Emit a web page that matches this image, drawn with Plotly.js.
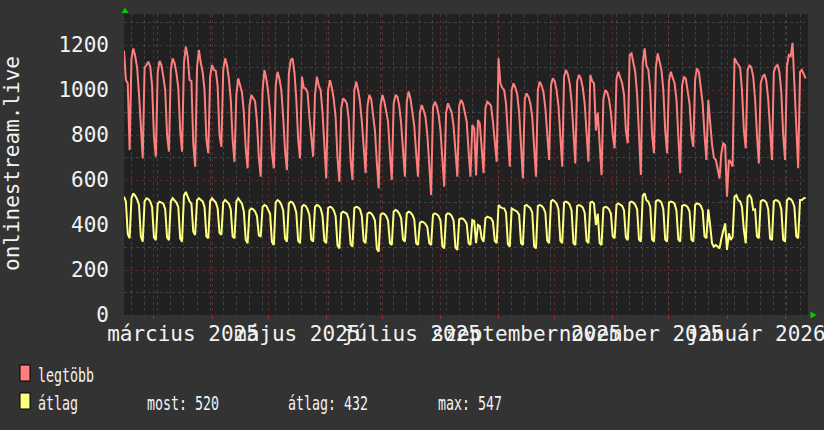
<!DOCTYPE html>
<html>
<head>
<meta charset="utf-8">
<script src="https://cdn.plot.ly/plotly-3.0.1.min.js"></script>
<style>
html,body{margin:0;padding:0;background:#333333;}
#chart{width:824px;height:430px;}
.annotation:not([data-index="0"]) text.annotation-text{
  transform: scaleX(0.7); transform-box: fill-box; transform-origin: 0 50%;
}
</style>
</head>
<body>
<div id="chart"></div>
<script>
// ---- data (daily, first day = startDate) ----
const startDate = [2025, 1, 13]; // 2025-02-13 (UTC, month 0-based)
const maxSeriesName = 'legtöbb';
const avgSeriesName = 'átlag';

const maxValues = [
 1175,1045,1030,733,
 1140,1185,1150,1100,985,830,696,
 1100,1110,1126,1105,1020,790,704,
 1080,1130,1110,1060,1000,800,726,
 1090,1141,1120,1075,1010,820,726,
 1120,1193,1150,1045,1040,760,659,
 1100,1178,1120,1080,1000,780,719,
 1060,1111,1090,1085,1020,800,748,
 1090,1141,1110,1050,960,780,681,
 980,1052,1020,990,900,740,652,
 930,978,960,950,860,700,615,
 1000,1089,1050,990,900,720,652,
 1020,1081,1050,1000,880,730,644,
 1070,1133,1141,1080,960,780,696,
 1059,1010,1007,990,880,770,704,
 980,1059,1020,1000,900,740,607,
 1000,1044,1010,960,880,700,593,
 920,963,955,940,870,690,600,
 1000,1037,1000,950,860,720,630,
 930,978,960,880,820,680,563,
 930,978,950,900,860,720,600,
 940,978,970,930,850,710,615,
 950,993,960,900,840,720,615,
 900,933,910,880,800,660,533,
 920,948,930,890,820,690,570,
 900,941,920,900,840,700,615,
 930,956,940,900,860,730,615,
 844,830,620,867,850,740,630,
 920,948,940,930,860,760,681,
 1141,1030,1010,1000,940,780,659,
 1000,1030,1010,980,900,730,607,
 960,985,970,940,880,720,615,
 1000,1037,1020,990,920,780,689,
 1020,1052,1040,1000,930,770,659,
 1060,1089,1070,1030,950,790,674,
 1040,1067,1050,1010,940,790,681,
 1067,1040,1030,820,900,760,622,
 960,1000,990,960,900,800,741,
 1050,1081,1060,1030,980,820,763,
 1156,1163,1120,1080,980,760,622,
 1120,1185,1107,1090,1000,800,719,
 1100,1163,1130,1090,1000,820,719,
 1040,1081,1060,1030,960,760,630,
 1020,1059,1050,1000,940,800,748,
 1050,1096,1080,1000,940,800,689,
 956,844,760,700,690,650,607,
 719,763,756,526,689,680,659,
 1141,1126,1111,1100,1000,820,741,
 1090,1111,1100,1060,960,800,674,
 1030,1059,1070,1040,960,800,689,
 1080,1104,1111,1080,990,800,689,
 1104,1156,1150,1210,1000,780,652,
 1081,1089,1070,1052
];

const avgValues = [
 526,505,360,341,
 520,541,530,515,490,350,326,
 505,519,515,505,480,345,333,
 495,504,500,495,470,345,333,
 505,519,510,500,480,340,326,
 530,547,525,505,495,370,356,
 510,519,512,505,480,350,341,
 505,519,510,500,475,365,356,
 500,511,505,495,470,350,341,
 505,519,505,495,460,335,319,
 465,474,470,460,440,355,348,
 480,489,485,470,450,325,311,
 500,511,505,490,465,340,326,
 495,504,500,485,455,330,319,
 481,489,485,470,445,335,326,
 480,489,485,475,440,330,319,
 475,481,478,465,440,310,296,
 452,459,455,450,425,315,304,
 475,481,478,470,440,330,319,
 450,456,452,440,420,295,281,
 445,452,450,440,420,320,311,
 460,467,462,450,430,335,326,
 452,459,455,445,425,320,311,
 410,415,412,405,390,320,311,
 445,452,448,440,420,305,296,
 445,452,450,440,420,300,289,
 425,430,428,420,405,320,311,
 422,418,319,400,395,340,326,
 430,437,435,430,415,330,319,
 489,480,475,474,455,315,304,
 474,470,465,459,445,320,311,
 485,489,482,475,455,305,296,
 485,489,485,475,455,330,319,
 505,511,505,495,470,330,319,
 500,504,500,490,465,320,311,
 485,489,485,478,455,330,319,
 500,504,495,400,450,320,311,
 475,481,478,470,450,350,341,
 490,496,492,485,465,345,333,
 500,504,500,490,470,335,326,
 530,541,510,504,480,335,326,
 505,511,508,500,470,335,326,
 500,504,502,495,465,335,326,
 485,489,487,480,460,335,326,
 490,496,494,485,465,350,341,
 470,400,319,304,311,304,296,
 340,370,407,289,363,333,348,
 526,533,511,505,480,378,319,
 525,533,520,467,470,350,341,
 505,511,508,500,470,340,333,
 505,511,508,500,470,335,326,
 510,519,515,505,480,350,341,
 511,511,519,520
];

const monthStarts = ['2025-03-01','2025-04-01','2025-05-01','2025-06-01','2025-07-01','2025-08-01',
  '2025-09-01','2025-10-01','2025-11-01','2025-12-01','2026-01-01','2026-02-01'];
const labelDates = ['2025-03-16 12:00','2025-05-16 12:00','2025-07-16 12:00','2025-09-16','2025-11-16','2026-01-16 12:00'];
const labelTexts = ['március 2025','május 2025','július 2025','szeptember 2025','november 2025','január 2026'];
const yTitle = 'onlinestream.live';
const statTexts = ['most: 520','átlag: 432','max: 547'];

// ---- dates ----
const dates = maxValues.map((_, i) => {
  const d = new Date(Date.UTC(startDate[0], startDate[1], startDate[2] + i));
  return d.toISOString().slice(0, 10);
});

const FONT = 'DejaVu Sans Mono';
const RED = '#ff7f7f';
const YEL = '#ffff80';

const traces = [
  {x: dates, y: maxValues, type: 'scatter', mode: 'lines', name: maxSeriesName,
   line: {color: RED, width: 2}, xaxis: 'x', yaxis: 'y', hoverinfo: 'skip'},
  {x: dates, y: avgValues, type: 'scatter', mode: 'lines', name: avgSeriesName,
   line: {color: YEL, width: 2}, xaxis: 'x2', yaxis: 'y', hoverinfo: 'skip'}
];

const majorGrid = 'rgba(170,60,60,0.40)';
const minorGrid = 'rgba(140,140,140,0.30)';

function px(x){ return (x - 124) / 684; }
function py(y){ return (315 - y) / 301; }

const layout = {
  width: 824, height: 430,
  paper_bgcolor: '#333333', plot_bgcolor: '#212121',
  margin: {l: 124, r: 16, t: 14, b: 115, pad: 0},
  showlegend: false,
  font: {family: FONT, color: '#f2f2f2'},
  xaxis: {
    type: 'date', range: ['2025-02-13', '2026-02-13 06:00'],
    tickmode: 'array', tickvals: monthStarts, showticklabels: false,
    ticks: 'outside', ticklen: 3, tickcolor: '#a03636',
    showgrid: true, gridcolor: majorGrid, griddash: 'dot', gridwidth: 1,
    minor: {tick0: '2025-02-17', dtick: 7 * 86400000, showgrid: true,
            gridcolor: minorGrid, griddash: 'dot', gridwidth: 1, ticks: ''},
    zeroline: false, showline: false, fixedrange: true
  },
  xaxis2: {
    type: 'date', overlaying: 'x', matches: 'x', anchor: 'y', side: 'bottom',
    tickmode: 'array', tickvals: labelDates, ticktext: labelTexts,
    tickangle: 0, ticks: '', showgrid: false, zeroline: false, showline: false,
    ticklabeloverflow: 'allow',
    tickfont: {family: FONT, size: 21, color: '#f2f2f2'},
    ticklabelstandoff: 4
  },
  yaxis: {
    range: [0, 1338], tickmode: 'linear', tick0: 0, dtick: 200,
    showgrid: true, gridcolor: majorGrid, griddash: 'dot', gridwidth: 1,
    minor: {dtick: 100, showgrid: true, gridcolor: minorGrid, griddash: 'dot', gridwidth: 1, ticks: ''},
    ticks: '', ticklabelstandoff: 14, zeroline: false, showline: false,
    tickfont: {family: FONT, size: 21, color: '#f2f2f2'}, fixedrange: true
  },
  shapes: [
    {type: 'path', xref: 'paper', yref: 'paper', layer: 'above',
     path: `M ${px(121.5)} ${py(13)} L ${px(128.5)} ${py(13)} L ${px(125)} ${py(7.5)} Z`,
     fillcolor: '#00cc00', line: {width: 0}},
    {type: 'path', xref: 'paper', yref: 'paper', layer: 'above',
     path: `M ${px(810.5)} ${py(311.5)} L ${px(810.5)} ${py(318.5)} L ${px(816.5)} ${py(315)} Z`,
     fillcolor: '#00cc00', line: {width: 0}},
    {type: 'rect', xref: 'paper', yref: 'paper', x0: px(20), x1: px(30), y0: py(381), y1: py(365),
     fillcolor: RED, line: {color: '#000000', width: 1}},
    {type: 'rect', xref: 'paper', yref: 'paper', x0: px(20), x1: px(30), y0: py(409), y1: py(393),
     fillcolor: YEL, line: {color: '#000000', width: 1}}
  ],
  annotations: [
    {text: yTitle, xref: 'paper', yref: 'paper', x: px(12), y: py(164), textangle: -90,
     showarrow: false, xanchor: 'center', yanchor: 'middle',
     font: {family: FONT, size: 21, color: '#f2f2f2'}},
    {text: maxSeriesName, xref: 'paper', yref: 'paper', x: px(36), y: py(374.5),
     showarrow: false, xanchor: 'left', yanchor: 'middle',
     font: {family: FONT, size: 19, color: '#f2f2f2'}},
    {text: avgSeriesName, xref: 'paper', yref: 'paper', x: px(36), y: py(402.5),
     showarrow: false, xanchor: 'left', yanchor: 'middle',
     font: {family: FONT, size: 19, color: '#f2f2f2'}},
    {text: statTexts[0], xref: 'paper', yref: 'paper', x: px(145), y: py(402.5),
     showarrow: false, xanchor: 'left', yanchor: 'middle',
     font: {family: FONT, size: 19, color: '#f2f2f2'}},
    {text: statTexts[1], xref: 'paper', yref: 'paper', x: px(286), y: py(402.5),
     showarrow: false, xanchor: 'left', yanchor: 'middle',
     font: {family: FONT, size: 19, color: '#f2f2f2'}},
    {text: statTexts[2], xref: 'paper', yref: 'paper', x: px(436), y: py(402.5),
     showarrow: false, xanchor: 'left', yanchor: 'middle',
     font: {family: FONT, size: 19, color: '#f2f2f2'}}
  ]
};

Plotly.newPlot('chart', traces, layout, {staticPlot: true, displayModeBar: false});
</script>
</body>
</html>
